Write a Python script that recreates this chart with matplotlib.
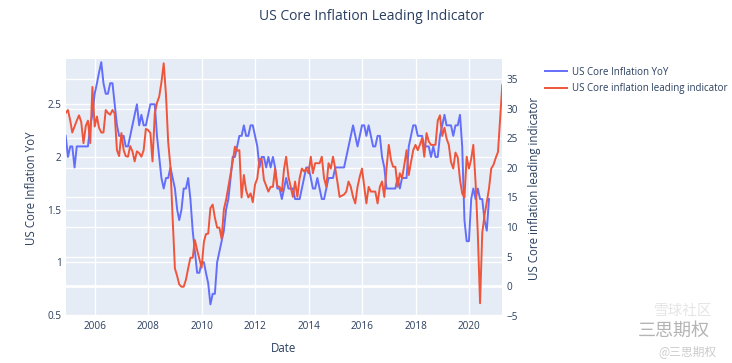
import matplotlib
matplotlib.use("Agg")
import matplotlib.pyplot as plt
from matplotlib.lines import Line2D
import pandas as pd

# 数据: 月度, 2004-11 起
red_vals = [
    29.3, 29.8, 28.0, 26.0, 27.0, 28.0, 28.9, 27.8, 24.2, 27.1,
    28.0, 24.2, 33.7, 27.0, 28.7, 26.8, 26.0, 26.0, 29.8, 29.3,
    29.0, 29.8, 29.2, 23.0, 22.0, 25.9, 23.0, 22.0, 21.9, 23.7,
    22.8, 21.1, 22.8, 22.5, 21.9, 23.0, 26.6, 26.4, 25.9, 21.1,
    29.2, 31.0, 32.1, 34.5, 37.7, 32.4, 24.4, 20.2, 11.5, 3.0,
    1.7, 0.3, -0.1, -0.1, 1.1, 3.0, 4.8, 4.8, 7.8, 6.1,
    4.6, 3.1, 7.5, 8.8, 8.9, 13.2, 13.8, 11.6, 9.9, 9.9,
    8.0, 13.0, 14.6, 16.8, 19.1, 21.0, 23.6, 22.9, 23.0, 15.0,
    18.8, 16.2, 15.0, 15.7, 14.2, 17.2, 18.25, 21.5, 21.5, 18.0,
    17.0, 16.0, 16.8, 16.8, 19.9, 16.9, 16.8, 16.0, 19.9, 21.9,
    18.5, 16.8, 15.1, 17.7, 15.1, 18.25, 19.9, 19.4, 19.9, 19.1,
    21.9, 19.1, 20.8, 20.8, 20.8, 21.9, 18.25, 16.8, 20.8, 19.9,
    21.9, 19.9, 17.5, 15.1, 15.3, 15.5, 16.0, 17.7, 16.8, 15.1,
    14.0, 16.8, 18.5, 19.9, 16.8, 14.0, 16.8, 16.0, 16.0, 16.0,
    14.0, 16.8, 17.7, 15.1, 19.9, 23.9, 21.3, 20.2, 20.2, 16.8,
    19.1, 18.25, 20.5, 23.0, 18.8, 21.0, 23.0, 23.9, 23.0, 23.9,
    25.0, 21.9, 25.9, 24.5, 23.9, 23.9, 23.9, 28.0, 28.9, 25.4,
    26.8, 25.0, 23.9, 21.0, 19.9, 22.6, 21.8, 18.0, 15.7, 15.0,
    21.9, 19.9, 21.5, 23.9, 17.5, 9.0, -2.9, 9.0, 12.0, 14.2,
    16.5, 19.9, 20.5, 21.7, 22.7, 28.0, 34.0,
]

blue_vals = [
    2.2, 2.0, 2.1, 2.1, 1.9, 2.1, 2.1, 2.1,
    2.1, 2.1, 2.1, 2.3, 2.4, 2.6, 2.7, 2.8, 2.9, 2.7, 2.6, 2.6,
    2.7, 2.7, 2.5, 2.3, 2.2, 2.2, 2.2, 2.1, 2.1, 2.2, 2.3, 2.4,
    2.5, 2.3, 2.4, 2.3, 2.3, 2.4, 2.5, 2.5, 2.5, 2.2, 2.0, 1.8,
    1.7, 1.8, 1.8, 1.9, 1.8, 1.7, 1.5, 1.4, 1.5, 1.7, 1.7, 1.8,
    1.6, 1.3, 1.1, 0.9, 0.9, 1.0, 1.0, 0.9, 0.8, 0.6, 0.7, 0.7,
    1.0, 1.1, 1.2, 1.3, 1.5, 1.6, 1.8, 2.0, 2.0, 2.1, 2.2, 2.2,
    2.3, 2.2, 2.2, 2.3, 2.3, 2.2, 2.1, 1.9, 2.0, 2.0, 1.9, 2.0,
    1.9, 2.0, 1.9, 1.7, 1.7, 1.6, 1.7, 1.8, 1.7, 1.7, 1.7, 1.6,
    1.6, 1.6, 1.7, 1.8, 1.9, 1.9, 1.8, 1.7, 1.7, 1.8, 1.7, 1.6,
    1.6, 1.7, 1.8, 1.8, 1.8, 1.9, 1.9, 1.9, 1.9, 1.9, 2.0, 2.1,
    2.2, 2.3, 2.2, 2.1, 2.2, 2.3, 2.3, 2.2, 2.3, 2.2, 2.1, 2.1,
    2.2, 2.2, 2.0, 1.9, 1.7, 1.7, 1.7, 1.7, 1.7, 1.8, 1.7, 1.8,
    1.8, 1.8, 2.1, 2.2, 2.3, 2.3, 2.2, 2.2, 2.2, 2.1, 2.1, 2.1,
    2.0, 2.1, 2.0, 2.0, 2.2, 2.3, 2.4, 2.3, 2.3, 2.3, 2.2, 2.3,
    2.3, 2.4, 2.1, 1.4, 1.2, 1.2, 1.6, 1.7, 1.6, 1.7, 1.6, 1.6,
    1.4, 1.3, 1.6,
]

dates = pd.date_range("2004-11-30", periods=len(red_vals), freq="ME")
blue_dates = dates[:len(blue_vals)]

left_ticks = [0.5, 1, 1.5, 2, 2.5]
left_labels = ["0.5", "1", "1.5", "2", "2.5"]
right_ticks = [-5, 0, 5, 10, 15, 20, 25, 30, 35]
year_ticks = pd.to_datetime([f"{y}-01-01" for y in range(2006, 2021, 2)])

BG = "#E5ECF6"
TXT = "#2a3f5f"
BLUE = "#636EFA"
RED = "#EF553B"
CJK = ["Noto Sans CJK SC", "DejaVu Sans"]

plt.rcParams["font.family"] = ["Open Sans", "DejaVu Sans"]

fig = plt.figure(figsize=(7.32, 3.63), dpi=100)
ax1 = fig.add_axes([65.7 / 732, 1 - 317 / 363, (502.3 - 65.7) / 732, (317 - 59) / 363])
ax1.set_facecolor(BG)
ax2 = ax1.twinx()
ax2.patch.set_visible(False)

l_lim = (0.48, 2.93)
r_lim = (-5.22, 38.43)
ax1.set_ylim(*l_lim)
ax2.set_ylim(*r_lim)
ax1.set_xlim(dates[0], dates[-1])

# 网格线 (两个y轴的都画在曲线下面)
for t in year_ticks:
    ax1.axvline(t, color="white", lw=1, zorder=0.5)
for v in left_ticks:
    ax1.axhline(v, color="white", lw=1, zorder=0.5)
for v in right_ticks:
    f = (v - r_lim[0]) / (r_lim[1] - r_lim[0])
    yy = l_lim[0] + f * (l_lim[1] - l_lim[0])
    ax1.axhline(yy, color="white", lw=2 if v == 0 else 1, zorder=0.6)

ax1.plot(blue_dates, blue_vals, color=BLUE, lw=1.4, zorder=2)
ax2.plot(dates, red_vals, color=RED, lw=1.4, zorder=2)

for a in (ax1, ax2):
    for s in a.spines.values():
        s.set_visible(False)
    a.tick_params(length=0, labelsize=7.2, colors=TXT)

ax1.set_xticks(year_ticks)
ax1.set_xticklabels([str(t.year) for t in year_ticks])
ax1.set_yticks(left_ticks)
ax1.set_yticklabels(left_labels)
ax2.set_yticks(right_ticks)
ax1.tick_params(axis="x", pad=3)
ax1.tick_params(axis="y", pad=3)
ax2.tick_params(axis="y", pad=3)

ax1.set_xlabel("Date", fontsize=8.3, color=TXT, labelpad=7)
ax1.set_ylabel("US Core Inflation YoY", fontsize=8.3, color=TXT, labelpad=7)
ax2.set_ylabel("US Core inflation leading indicator", fontsize=8.3, color=TXT, labelpad=7)

fig.text(372 / 732, 1 - 17 / 363, "US Core Inflation Leading Indicator",
         ha="center", va="center", fontsize=10, color=TXT)

handles = [Line2D([0], [0], color=BLUE, lw=1.4),
           Line2D([0], [0], color=RED, lw=1.4)]
fig.legend(handles, ["US Core Inflation YoY", "US Core inflation leading indicator"],
           loc="upper left", bbox_to_anchor=(541 / 732, 1 - 63 / 363),
           frameon=False, fontsize=7.0, handlelength=2.3, handletextpad=0.45,
           labelspacing=0.55, labelcolor=TXT, borderaxespad=0)

# 水印
fig.text(683 / 732, 1 - 311 / 363, "雪球社区", ha="center", va="center", fontsize=10.5,
         color="#999999", alpha=0.25, family=CJK)
fig.text(674 / 732, 1 - 331 / 363, "三思期权", ha="center", va="center", fontsize=13,
         color="#777777", alpha=0.55, family=CJK)
fig.text(687 / 732, 1 - 352 / 363, "@三思期权", ha="center", va="center", fontsize=8.5,
         color="#aaaaaa", alpha=0.6, family=CJK)

fig.savefig("out.png", dpi=100)
